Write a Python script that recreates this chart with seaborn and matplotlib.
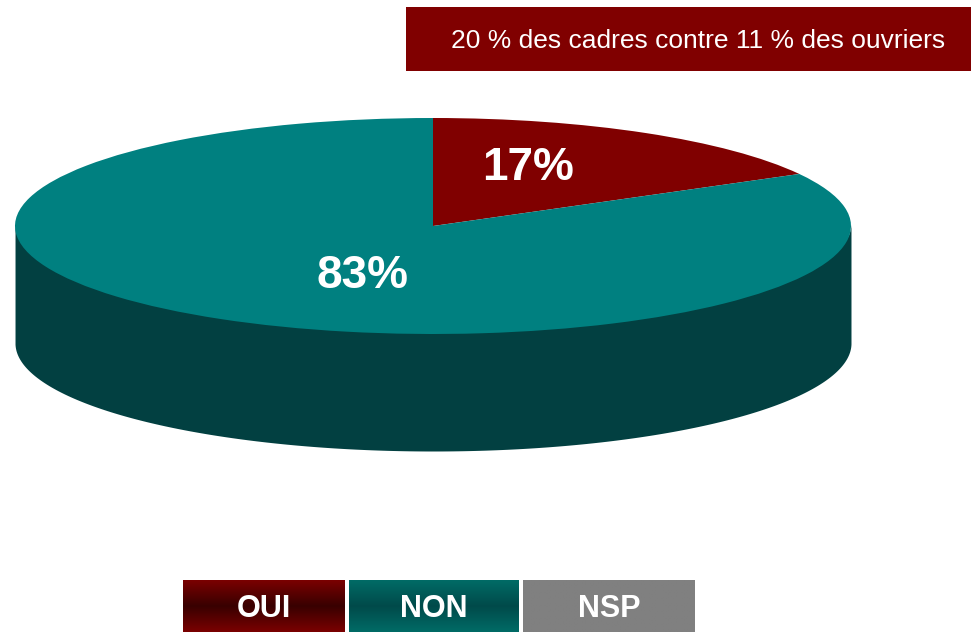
import numpy as np
import seaborn as sns
import matplotlib.pyplot as plt
from matplotlib.patches import Rectangle
from matplotlib.transforms import Affine2D

# data
categories = ["OUI", "NON", "NSP"]
shares = [17, 83, 0]
top_colors = ["#800000", "#008080", "#808080"]
side_colors = ["#4a0000", "#024041", "#505050"]
note = "20 % des cadres contre 11 % des ouvriers"

sns.set_style("white")
plt.rcParams['font.family'] = ['Liberation Sans', 'DejaVu Sans']

W, H = 971, 633
fig = plt.figure(figsize=(W / 100, H / 100), dpi=100)
ax = fig.add_axes([0, 0, 1, 1])
ax.set_xlim(0, W)
ax.set_ylim(H, 0)
ax.axis('off')

# pie geometry (pixels)
cx, cy, rx, ry, depth = 433, 226, 418, 108, 117

# slice angle ranges (clockwise from 12 o'clock)
total = float(sum(shares))
starts, ends = [], []
a = 90.0
for v in shares:
    starts.append(a)
    a -= 360.0 * v / total
    ends.append(a)

# side wall: front half only (angles where sin < 0)
for s, e, col in zip(starts, ends, side_colors):
    if s == e:
        continue
    th = np.radians(np.linspace(e, s, 400))
    th = th[np.sin(th) <= 0.0001]
    if th.size < 2:
        continue
    x = cx + rx * np.cos(th)
    ytop = cy - ry * np.sin(th)
    order = np.argsort(x)
    # start a bit above the rim so no light seam shows
    ax.fill_between(x[order], ytop[order] - 3, ytop[order] + depth,
                    color=col, linewidth=0)

# top face via pie, squashed into an ellipse
wedges, _ = ax.pie(shares, colors=top_colors, startangle=90, counterclock=False,
                   radius=1, center=(0, 0), wedgeprops=dict(linewidth=0))
squash = Affine2D().scale(rx, -ry).translate(cx, cy) + ax.transData
for w in wedges:
    w.set_transform(squash)
ax.set_xlim(0, W)
ax.set_ylim(H, 0)
ax.set_aspect('auto')

# percentage labels
label_pos = [(528, 168), (363, 276)]
for (lx, ly), v in zip(label_pos, shares):
    ax.text(lx, ly, f"{v}%", color="white", fontsize=33, fontweight="bold",
            ha="center", va="center")

# note box
ax.add_patch(Rectangle((406, 7), 565, 64, color="#800000", linewidth=0))
ax.text(698, 41, note, color="white", fontsize=19, ha="center", va="center")

# legend boxes with gradients
box_x = [(183, 345), (349, 519), (523, 695)]
grad_top = ["#7a0000", "#006b66", "#808080"]
grad_mid = ["#380000", "#004a4a", "#808080"]
t = np.abs(np.linspace(-1, 1, 60))[:, None]
for (x0, x1), c0, c1, lab in zip(box_x, grad_top, grad_mid, categories):
    a0 = np.array(plt.matplotlib.colors.to_rgb(c0))
    a1 = np.array(plt.matplotlib.colors.to_rgb(c1))
    img = (a1 + (a0 - a1) * t)[:, None, :]
    ax.imshow(img, extent=(x0, x1, 632, 580), aspect='auto', interpolation='bilinear')
    ax.text((x0 + x1) / 2, 609, lab, color="white", fontsize=22, fontweight="bold",
            ha="center", va="center")
ax.set_xlim(0, W)
ax.set_ylim(H, 0)

fig.savefig("out.png", dpi=100)
